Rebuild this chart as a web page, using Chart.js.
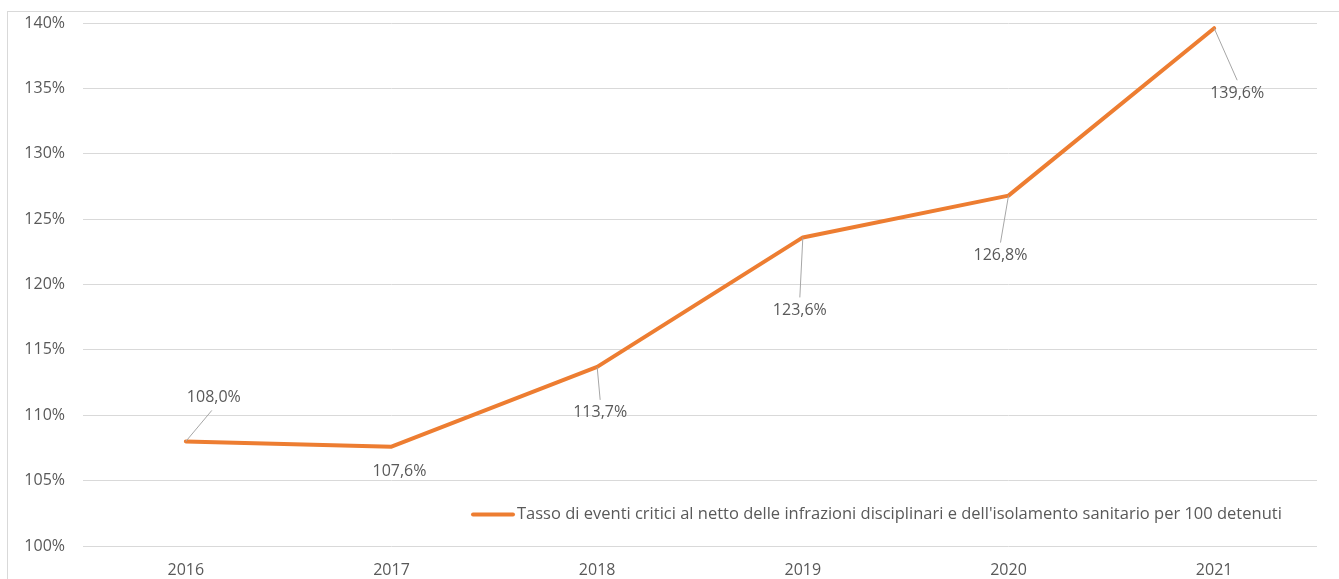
<!DOCTYPE html>
<html>
<head>
<meta charset="utf-8">
<script src="https://cdn.jsdelivr.net/npm/chart.js@4"></script>
<style>
  html, body { margin: 0; padding: 0; background: #fff; }
  #wrap { position: relative; width: 1339px; height: 579px; }
  #frame { position: absolute; left: 7px; top: 11px; width: 1400px; height: 600px; border: 1px solid #d9d9d9; box-sizing: border-box; }
  canvas { position: absolute; left: 0; top: 0; }
</style>
</head>
<body>
<div id="wrap">
  <div id="frame"></div>
  <canvas id="chart" width="1339" height="579"></canvas>
</div>
<script>
// data
const years = ["2016", "2017", "2018", "2019", "2020", "2021"];
const rate = [108.0, 107.6, 113.7, 123.6, 126.8, 139.6];
const seriesName = "Tasso di eventi critici al netto delle infrazioni disciplinari e dell'isolamento sanitario per 100 detenuti";

// where each value label sits relative to its point (px)
const labelShift = [[28, -44], [8, 25], [3, 46], [-3, 73], [-8, 60], [23, 65]];

const FONT = "'Open Sans', sans-serif";
const GREY = "#595959";
const ORANGE = "#ED7D31";

function fmt(v) {
  return v.toFixed(1).replace(".", ",") + "%";
}

// value labels with leader lines, like the spreadsheet original
const valueLabels = {
  id: "valueLabels",
  afterDatasetsDraw(chart) {
    const ctx = chart.ctx;
    const pts = chart.getDatasetMeta(0).data;
    ctx.save();
    ctx.font = "16px " + FONT;
    ctx.textAlign = "center";
    ctx.textBaseline = "middle";
    pts.forEach((p, i) => {
      const lx = p.x + labelShift[i][0];
      const ly = p.y + labelShift[i][1];
      const down = labelShift[i][1] > 0;
      const ey = down ? ly - 13 : ly + 13;
      if (Math.abs(ey - p.y) > 16) {
        ctx.strokeStyle = "#a6a6a6";
        ctx.lineWidth = 1;
        ctx.beginPath();
        ctx.moveTo(p.x, p.y);
        ctx.lineTo(lx - (down ? 0 : 2), ey);
        ctx.stroke();
      }
      ctx.fillStyle = GREY;
      ctx.fillText(fmt(rate[i]), lx, ly);
    });
    ctx.restore();
  }
};

// legend drawn inside the plot, bottom right
const innerLegend = {
  id: "innerLegend",
  afterDraw(chart) {
    const ctx = chart.ctx;
    const y = chart.scales.y.getPixelForValue(102.4);
    ctx.save();
    ctx.strokeStyle = ORANGE;
    ctx.lineWidth = 4;
    ctx.lineCap = "round";
    ctx.beginPath();
    ctx.moveTo(473, y);
    ctx.lineTo(513, y);
    ctx.stroke();
    ctx.font = "16.5px " + FONT;
    ctx.fillStyle = GREY;
    ctx.textBaseline = "middle";
    ctx.fillText(seriesName, 517, y);
    ctx.restore();
  }
};

new Chart(document.getElementById("chart"), {
  type: "line",
  data: {
    labels: years,
    datasets: [{
      label: seriesName,
      data: rate,
      borderColor: ORANGE,
      backgroundColor: ORANGE,
      borderWidth: 4,
      pointRadius: 0,
      borderJoinStyle: "round",
      borderCapStyle: "round",
      tension: 0
    }]
  },
  options: {
    responsive: false,
    animation: false,
    layout: { padding: { left: 0, right: 22, top: 23, bottom: 0 } },
    plugins: {
      legend: { display: false },
      tooltip: { enabled: false }
    },
    scales: {
      x: {
        offset: true,
        grid: { display: false, drawTicks: false },
        border: { display: false },
        ticks: { color: GREY, font: { family: FONT, size: 16 }, padding: 15, maxRotation: 0 },
        afterFit(s) { s.height = 33; }
      },
      y: {
        min: 100,
        max: 140,
        grid: { color: "#d9d9d9", lineWidth: 1, drawTicks: false },
        border: { display: false },
        ticks: {
          stepSize: 5,
          color: GREY,
          font: { family: FONT, size: 16 },
          padding: 18,
          callback: v => v + "%"
        },
        afterFit(s) { s.width = 83; s.paddingTop = 0; s.paddingBottom = 0; }
      }
    }
  },
  plugins: [valueLabels, innerLegend]
});
</script>
</body>
</html>
